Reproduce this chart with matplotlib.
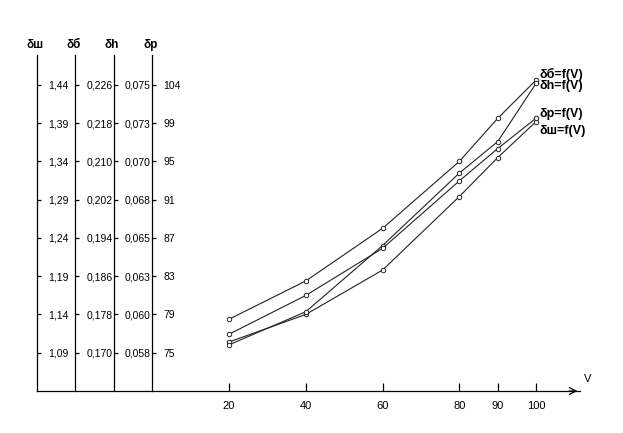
import matplotlib
matplotlib.use("Agg")
import matplotlib.pyplot as plt
import numpy as np

# скорость
v = [20, 40, 60, 80, 90, 100]

# значения по четырём шкалам
d_sh = [1.104, 1.140, 1.198, 1.294, 1.345, 1.392]
d_b = [0.177, 0.185, 0.196, 0.210, 0.219, 0.227]
d_h = [0.0585, 0.0606, 0.0648, 0.0694, 0.0714, 0.0751]
d_p = [77.0, 81.2, 86.3, 93.6, 97.1, 100.4]

# подписи делений шкал
sh_labels = ["1,09", "1,14", "1,19", "1,24", "1,29", "1,34", "1,39", "1,44"]
b_labels = ["0,170", "0,178", "0,186", "0,194", "0,202", "0,210", "0,218", "0,226"]
h_labels = ["0,058", "0,060", "0,063", "0,065", "0,068", "0,070", "0,073", "0,075"]
p_labels = ["75", "79", "83", "87", "91", "95", "99", "104"]
v_ticks = [20, 40, 60, 80, 90, 100]

names = ["δш", "δб", "δh", "δp"]
curve_names = ["δш=f(V)", "δб=f(V)", "δh=f(V)", "δp=f(V)"]

plt.rcParams['font.family'] = ["Liberation Sans Narrow", "Liberation Sans", "DejaVu Sans"]

fig = plt.figure(figsize=(6.23, 4.33), dpi=100)
ax = fig.add_axes([0.0594, 0.097, 0.872, 0.776])
ax.set_xlim(-30, 111.5)
ax.set_yticks([])
for s in ["left", "right", "top"]:
    ax.spines[s].set_visible(False)
ax.spines["bottom"].set_linewidth(0.9)
ax.set_xticks(v_ticks)
ax.set_xticklabels([str(t) for t in v_ticks])
ax.tick_params(axis="x", direction="in", length=6, width=0.9, pad=7, labelsize=8)
ax.annotate("", xy=(1.0, 0), xytext=(0.975, 0), xycoords="axes fraction",
            arrowprops=dict(arrowstyle="->", lw=0.9, mutation_scale=12))
ax.text(1.006, 0.02, "V", transform=ax.transAxes, fontsize=8, ha="left", va="bottom")

spine_x = [-30, -20, -10, 0]
series = [d_sh, d_b, d_h, d_p]
labels = [sh_labels, b_labels, h_labels, p_labels]
# смещения подписей кривых (px)
end_offsets = [(3, -9), (3, 6), (3, -3), (3, 4)]

for name, cname, xs, ys, lab, off in zip(names, curve_names, spine_x, series, labels, end_offsets):
    tw = ax.twinx()
    vals = [float(s.replace(",", ".")) for s in lab]
    ticks = np.linspace(vals[0], vals[-1], len(vals))
    step = ticks[1] - ticks[0]
    tw.set_ylim(vals[0] - step, vals[0] + 7.78 * step)
    tw.set_yticks(ticks)
    tw.set_yticklabels(lab)
    for s in ["left", "top", "bottom"]:
        tw.spines[s].set_visible(False)
    tw.spines["right"].set_position(("data", xs))
    tw.spines["right"].set_linewidth(0.9)
    tw.tick_params(axis="y", direction="out", length=3, width=0.9, pad=5, labelsize=7.5)
    tw.plot(v, ys, color="#222222", lw=0.8, marker="o", ms=3.2,
            mfc="white", mec="#222222", mew=0.7)
    tw.annotate(cname, xy=(v[-1], ys[-1]), xytext=off, textcoords="offset pixels",
                ha="left", va="center", fontsize=9, fontweight="bold")
    ax.text(xs - 0.5, 1.03, name, transform=ax.get_xaxis_transform(),
            ha="center", va="center", fontsize=8.5, fontweight="bold")

fig.savefig("out.png", dpi=100)
